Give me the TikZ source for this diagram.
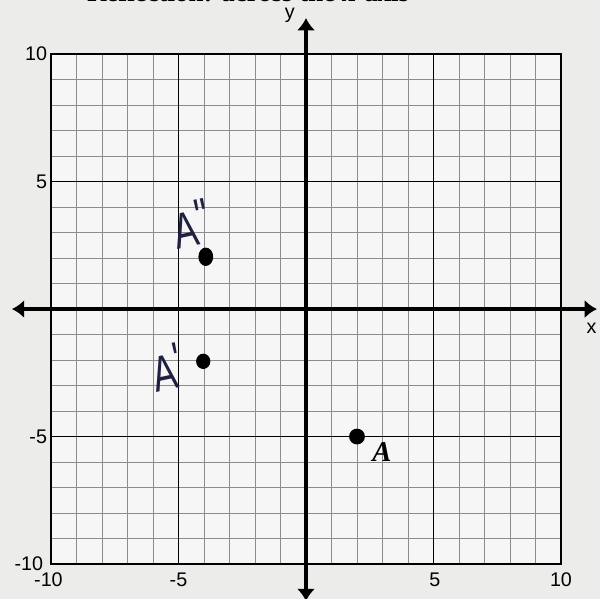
\documentclass[tikz,border=0pt]{standalone}
\usepackage{fontspec}
\setmainfont{Liberation Serif}
\setsansfont{Liberation Sans}
\usetikzlibrary{arrows.meta}
\definecolor{inkblue}{RGB}{30,34,64}
\definecolor{paper}{RGB}{236,236,234}

\begin{document}
\begin{tikzpicture}[>={Latex[length=0.48cm,width=0.72cm]},
    minor/.style={black!45, line width=0.7pt},
    major/.style={black, line width=1.1pt},
    axis/.style={line width=5pt},
    num/.style={font=\sffamily\fontsize{22}{24}\selectfont, inner sep=0pt},
    hand/.style={font=\sffamily\fontsize{56}{58}\selectfont, text=inkblue, inner sep=0pt}]
    % Grid from -10 to 10 both ways, a darker line every 5.
    \useasboundingbox (-12,-11.37) rectangle (11.53,12.12);
    \fill[paper] (-12,-11.37) rectangle (11.53,12.12);
    \fill[white!55!paper] (-10,-10) rectangle (10,10);
    \draw[minor] (-10,-10) grid (10,10);
    \draw[major] (-10,-10) grid[step=5] (10,10);
    \draw[line width=1.6pt] (-10,-10) rectangle (10,10);

    \draw[axis, <->] (-11.53,0) -- (11.41,0);
    \draw[axis, <->] (0,-11.45) -- (0,11.41);

    \node[font=\bfseries\fontsize{30}{32}\selectfont, anchor=base] (title) at (-2.27,12.08) {Reflection: across the x-axis};
    \node[num] (xlab) at (11.2,-0.75) {x};
    \node[num] (ylab) at (-0.63,11.53) {y};
    \foreach \v in {10,5,-5}
        \node[num, anchor=east] (l\v) at (-10.15,\v) {\v};
    \node[num, anchor=east] (l-10) at (-10.3,-10) {-10};
    \foreach \v/\x in {-10/-10.1, -5/-5, 5/5.05, 10/10}
        \node[num] (b\v) at (\x,-10.63) {\v};

    \fill (2,-5) circle (0.31);
    \fill (-3.93,2.05) ellipse (0.29 and 0.36);
    \fill (-4.03,-2.05) ellipse (0.28 and 0.3);

    \node[font=\bfseries\itshape\fontsize{32}{34}\selectfont] (lblA) at (2.98,-5.61) {A};
    \node[hand, rotate=12, xscale=0.72] (lblApp) at (-4.5,3.35) {A\raisebox{0.2em}{\textquotedbl}};
    \node[hand, rotate=12, xscale=0.72] (lblAp) at (-5.45,-2.3) {A\raisebox{0.2em}{\textquotesingle}};
\end{tikzpicture}
\end{document}
